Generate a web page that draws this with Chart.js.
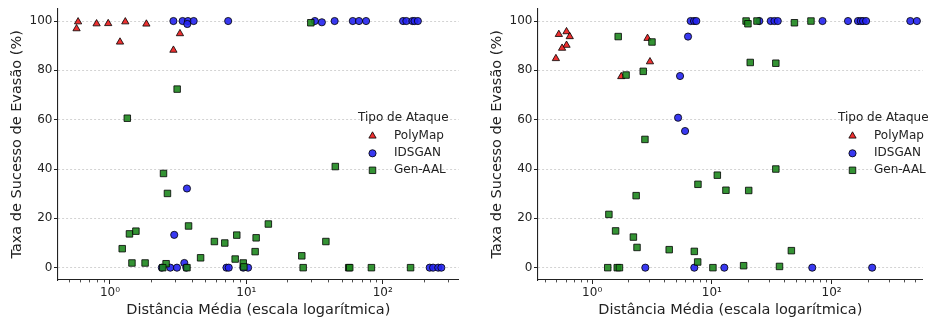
<!DOCTYPE html>
<html>
<head>
<meta charset="utf-8">
<script src="https://cdn.jsdelivr.net/npm/chart.js@4.4.1/dist/chart.umd.min.js"></script>
<style>
html, body { margin: 0; padding: 0; background: #fff; }
#wrap { position: relative; width: 928px; height: 320px; }
.box { position: absolute; top: 0; width: 464px; height: 320px; }
</style>
</head>
<body>
<div id="wrap">
    <div class="box" style="left:0"><canvas id="chart-left"></canvas></div>
    <div class="box" style="left:464px"><canvas id="chart-right"></canvas></div>
</div>
<script>
// Evasion success rate vs mean distance, two experiments

const seriesNames = ['PolyMap', 'IDSGAN', 'Gen-AAL'];
const majorTicks = [1, 10, 100];
const majorLabels = ['10\u2070', '10\u00b9', '10\u00b2'];
const yTicks = [0, 20, 40, 60, 80, 100];

// left panel
const leftPolyX = [0.584, 0.569, 0.798, 0.971, 1.296, 1.185, 1.85, 3.26, 2.92];
const leftPolyY = [99.7, 96.9, 98.9, 99.0, 99.7, 91.5, 98.8, 94.9, 88.2];

const leftIdsX = [2.92, 3.41, 3.73, 3.69, 4.11, 7.36, 31.8, 35.8, 44.4, 60.3, 67.0, 75.5, 141, 149, 165, 171, 181,
    3.67, 2.96, 3.51, 2.40, 2.77, 3.10, 3.63, 7.15, 7.43, 9.49, 10.3, 221, 234, 255, 269];
const leftIdsY = [100, 100, 100, 98.8, 100, 100, 100, 99.5, 100, 100, 100, 100, 100, 100, 100, 100, 100,
    32.1, 13.3, 1.9, 0, 0, 0, 0, 0, 0, 0, 0, 0, 0, 0, 0];

const leftGenX = [3.11, 1.34, 29.7, 2.47, 2.64, 3.77, 1.39, 1.55, 1.23, 1.45, 1.81, 2.58, 2.44, 3.67, 4.62, 5.83,
    6.95, 8.51, 8.28, 9.49, 9.59, 11.8, 11.6, 14.5, 44.9, 38.3, 25.5, 26.1, 56.3, 57.3, 82.6, 160];
const leftGenY = [72.4, 60.6, 99.3, 38.2, 30.1, 16.9, 13.7, 14.8, 7.7, 1.9, 1.9, 1.6, 0, 0, 4.0, 10.6,
    10.0, 13.2, 3.5, 1.9, 0.3, 12.1, 6.5, 17.7, 41.0, 10.6, 4.8, 0, 0, 0, 0, 0];

// right panel
const rightPolyX = [0.527, 0.611, 0.65, 0.611, 0.561, 0.498, 2.90, 3.04, 1.75];
const rightPolyY = [94.6, 95.7, 93.7, 90.2, 89.0, 84.8, 93.0, 83.5, 77.5];

const rightIdsX = [6.65, 7.09, 7.41, 24.9, 31.0, 33.3, 35.5, 83.9, 137, 166, 175, 183, 194, 454, 515,
    6.32, 5.42, 5.22, 5.97, 2.78, 7.13, 12.7, 68.9, 218];
const rightIdsY = [100, 100, 100, 100, 100, 100, 100, 100, 100, 100, 100, 100, 100, 100, 100,
    93.7, 77.7, 60.8, 55.4, 0, 0, 0, 0, 0];

const rightGenX = [1.65, 3.16, 1.92, 2.67, 2.76, 19.3, 20.0, 23.8, 48.9, 67.2, 20.9, 34.2, 11.1, 7.65, 13.1, 2.33,
    1.38, 1.57, 2.21, 2.37, 4.40, 7.13, 7.61, 1.35, 1.62, 1.69, 10.2, 20.3, 34.2, 46.1, 18.4, 36.7];
const rightGenY = [93.7, 91.5, 78.1, 79.6, 52.0, 100, 98.9, 100, 99.3, 100, 83.2, 82.9, 37.5, 33.8, 31.4, 29.2,
    21.6, 14.9, 12.4, 8.2, 7.3, 6.6, 2.3, 0, 0, 0, 0, 31.3, 40.0, 6.9, 0.8, 0.5];

const FONT = '"DejaVu Sans", sans-serif';
const INK = '#222';
const styles = [
    { shape: 'triangle', radius: 4.2, color: 'rgba(235, 25, 25, 0.9)' },
    { shape: 'circle', radius: 3.6, color: 'rgba(35, 35, 240, 0.9)' },
    { shape: 'rect', radius: 4.6, color: 'rgba(30, 135, 30, 0.9)' }
];

function points(xs, ys) {
    return xs.map((x, i) => ({ x: x, y: ys[i] }));
}

function drawShape(ctx, shape, x, y, r) {
    ctx.beginPath();
    if (shape === 'triangle') {
        for (let k = 0; k < 3; k++) {
            const a = k * 2 * Math.PI / 3;
            const px = x + Math.sin(a) * r, py = y - Math.cos(a) * r;
            if (k === 0) ctx.moveTo(px, py); else ctx.lineTo(px, py);
        }
        ctx.closePath();
    } else if (shape === 'circle') {
        ctx.arc(x, y, r, 0, 2 * Math.PI);
    } else {
        const h = r * Math.SQRT1_2;
        ctx.rect(x - h, y - h, 2 * h, 2 * h);
    }
    ctx.fill();
    ctx.stroke();
}

// minor ticks on the log axis + legend drawn inside the plot
const extras = {
    id: 'extras',
    afterDraw(chart, args, opts) {
        const ctx = chart.ctx;
        const xs = chart.scales.x;
        const bottom = chart.chartArea.bottom;
        ctx.save();
        ctx.strokeStyle = INK;
        ctx.lineWidth = 0.8;
        xs.ticks.forEach(t => {
            if (t.major) return;
            const px = Math.round(xs.getPixelForValue(t.value)) + 0.5;
            ctx.beginPath();
            ctx.moveTo(px, bottom);
            ctx.lineTo(px, bottom + 2.4);
            ctx.stroke();
        });

        const left = opts.left;
        ctx.font = '12px ' + FONT;
        ctx.fillStyle = INK;
        ctx.textBaseline = 'middle';
        ctx.textAlign = 'left';
        ctx.fillText('Tipo de Ataque', left, 117.5);
        const rows = [136, 153.3, 170.3];
        seriesNames.forEach((name, i) => {
            const s = styles[i];
            ctx.fillStyle = s.color;
            ctx.strokeStyle = '#000';
            ctx.lineWidth = 0.8;
            drawShape(ctx, s.shape, left + 14.5, rows[i], s.radius);
            ctx.fillStyle = INK;
            ctx.fillText(name, left + 36, rows[i]);
        });
        ctx.restore();
    }
};

function makeChart(id, data, xMin, xMax, padLeft, legendLeft) {
    const datasets = data.map((d, i) => ({
        label: seriesNames[i],
        data: d,
        pointStyle: styles[i].shape,
        pointRadius: styles[i].radius,
        pointHoverRadius: styles[i].radius,
        backgroundColor: styles[i].color,
        borderColor: '#000',
        borderWidth: 0.8,
        order: 3 - i,
        clip: false
    }));

    return new Chart(document.getElementById(id), {
        type: 'scatter',
        data: { datasets: datasets },
        plugins: [extras],
        options: {
            responsive: true,
            maintainAspectRatio: false,
            animation: false,
            layout: { padding: { left: padLeft, right: 0, top: 7, bottom: 0 } },
            plugins: {
                legend: { display: false },
                tooltip: { enabled: false },
                extras: { left: legendLeft }
            },
            scales: {
                x: {
                    type: 'logarithmic',
                    min: xMin,
                    max: xMax,
                    afterFit: s => { s.height = 40; },
                    afterBuildTicks: s => {
                        const list = [];
                        [0.1, 1, 10, 100].forEach(dec => {
                            for (let m = 1; m <= 9; m++) {
                                const v = +(dec * m).toPrecision(3);
                                if (v >= xMin && v <= xMax) list.push({ value: v, major: majorTicks.includes(v) });
                            }
                        });
                        s.ticks = list;
                    },
                    ticks: {
                        autoSkip: false,
                        maxRotation: 0,
                        padding: 2,
                        color: INK,
                        font: { family: FONT, size: 12 },
                        callback: v => {
                            const k = majorTicks.indexOf(v);
                            return k >= 0 ? majorLabels[k] : '';
                        }
                    },
                    grid: {
                        drawOnChartArea: false,
                        drawTicks: true,
                        tickLength: 4,
                        tickWidth: 1,
                        tickColor: c => (c.tick && c.tick.major ? INK : 'rgba(0,0,0,0)')
                    },
                    border: { display: true, color: INK, width: 1.1 },
                    title: {
                        display: true,
                        text: 'Distância Média (escala logarítmica)',
                        color: INK,
                        font: { family: FONT, size: 14.5 },
                        padding: { top: 0, bottom: 1.5 }
                    }
                },
                y: {
                    min: -5,
                    max: 105,
                    afterFit: s => { s.width = 58; },
                    afterBuildTicks: s => { s.ticks = yTicks.map(v => ({ value: v })); },
                    ticks: {
                        padding: 1.5,
                        color: INK,
                        font: { family: FONT, size: 12 }
                    },
                    grid: {
                        color: '#c8c8c8',
                        lineWidth: 0.8,
                        tickColor: INK,
                        tickLength: 4,
                        tickWidth: 1
                    },
                    border: { display: true, color: INK, width: 1.1, dash: [2, 2] },
                    title: {
                        display: true,
                        text: 'Taxa de Sucesso de Evasão (%)',
                        color: INK,
                        font: { family: FONT, size: 14.5 },
                        padding: { top: 8.3, bottom: 0 }
                    }
                }
            }
        }
    });
}

makeChart('chart-left', [
    points(leftPolyX, leftPolyY),
    points(leftIdsX, leftIdsY),
    points(leftGenX, leftGenY)
], 0.416, 360, 0, 358);

makeChart('chart-right', [
    points(rightPolyX, rightPolyY),
    points(rightIdsX, rightIdsY),
    points(rightGenX, rightGenY)
], 0.353, 575, 16, 374);
</script>
</body>
</html>
